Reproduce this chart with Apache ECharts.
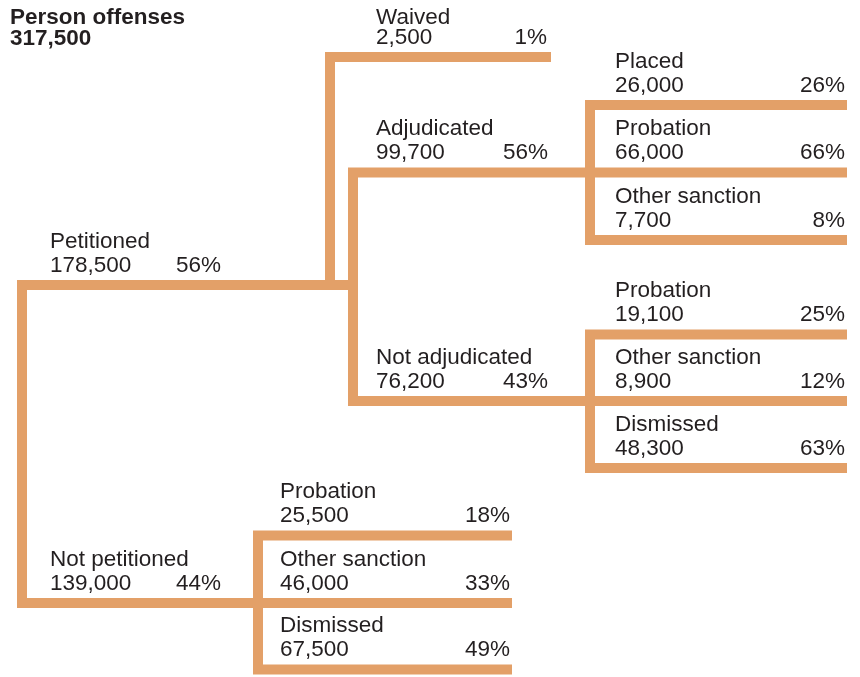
<!DOCTYPE html>
<html><head><meta charset="utf-8">
<script src="https://cdn.jsdelivr.net/npm/echarts@6/dist/echarts.min.js"></script>
<style>html,body{margin:0;padding:0;background:#fff}#chart{width:860px;height:677px}</style>
</head><body><div id="chart"></div>
<script>
// ---- data ----
const nodeNames = ['Person offenses','Petitioned','Not petitioned','Waived','Adjudicated','Not adjudicated','Placed','Probation','Other sanction','Probation','Other sanction','Dismissed','Probation','Other sanction','Dismissed'];
const nodeCounts = [317500,178500,139000,2500,99700,76200,26000,66000,7700,19100,8900,48300,25500,46000,67500];
const nodePercents = [null,56,44,1,56,43,26,66,8,25,12,63,18,33,49];
const nodeParents = [-1,0,0,1,1,1,4,4,4,5,5,5,2,2,2];

// ---- layout (diagram units) ----
const layoutTrunkX = [22,22,22,330,353,353,590,590,590,590,590,590,258,258,258];
const layoutEndX   = [null,353,258,551,590,590,847,847,847,847,847,847,512,512,512];
const layoutY      = [444,285,603,57,172.5,401,105,172.5,240,334.5,401,468,535.5,603,669.5];
const layoutLabelX = [10,50,50,376,376,376,615,615,615,615,615,615,280,280,280];
const layoutPctX   = [null,221,221,547,548,548,845,845,845,845,845,845,510,510,510];
const layoutNameGap = [null,38,38,34,38,38,38,38,38,38,38,38,38,38,38];
const layoutCountGap = 14;
const titleBaselines = [22.7, 44.3];

const LINE_COLOR = '#E3A068';
const TEXT_COLOR = '#231F20';
const FONT = '22.5px "Liberation Sans", Arial, Helvetica, sans-serif';
const BOLD = 'bold 22.5px "Liberation Sans", Arial, Helvetica, sans-serif';
const MID = 5.3; // baseline - middle offset
const fmt = v => v.toLocaleString('en-US');

function txt(x, y, text, font, align) {
  return {type:'text', style:{text:text, x:x, y:y, fill:TEXT_COLOR, font:font,
    align:align, textAlign:align, verticalAlign:'middle', textVerticalAlign:'middle'}};
}

function renderItem(params, api) {
  const i = api.value(0);
  const children = [];
  if (nodeParents[i] < 0) {
    const p1 = api.coord([layoutLabelX[i], titleBaselines[0]]);
    const p2 = api.coord([layoutLabelX[i], titleBaselines[1]]);
    children.push(txt(p1[0], p1[1] - MID, nodeNames[i], BOLD, 'left'));
    children.push(txt(p2[0], p2[1] - MID, fmt(nodeCounts[i]), BOLD, 'left'));
    return {type:'group', children:children};
  }
  const par = nodeParents[i];
  const pts = [];
  const a = api.coord([layoutTrunkX[i], layoutY[par]]);
  const b = api.coord([layoutTrunkX[i], layoutY[i]]);
  const c = api.coord([layoutEndX[i], layoutY[i]]);
  if (Math.abs(a[1] - b[1]) > 0.5) pts.push(a);
  pts.push(b, c);
  children.push({type:'polyline', shape:{points:pts},
    style:{stroke:LINE_COLOR, lineWidth:10, fill:null, lineJoin:'miter', lineCap:'butt'}});
  const n = api.coord([layoutLabelX[i], layoutY[i] - layoutNameGap[i]]);
  const v = api.coord([layoutLabelX[i], layoutY[i] - layoutCountGap]);
  const pc = api.coord([layoutPctX[i], layoutY[i] - layoutCountGap]);
  children.push(txt(n[0], n[1] - MID, nodeNames[i], FONT, 'left'));
  children.push(txt(v[0], v[1] - MID, fmt(nodeCounts[i]), FONT, 'left'));
  children.push(txt(pc[0], pc[1] - MID, nodePercents[i] + '%', FONT, 'right'));
  return {type:'group', children:children};
}

const chart = echarts.init(document.getElementById('chart'), null, {renderer:'canvas'});
chart.setOption({
  animation:false,
  backgroundColor:'#ffffff',
  grid:{left:0, right:0, top:0, bottom:0},
  xAxis:{type:'value', min:0, max:860, show:false},
  yAxis:{type:'value', min:0, max:677, inverse:true, show:false},
  series:[{
    type:'custom',
    coordinateSystem:'cartesian2d',
    renderItem:renderItem,
    encode:{x:0, y:1},
    data: nodeNames.map((_, i) => [i, layoutY[i]])
  }]
});
</script></body></html>
